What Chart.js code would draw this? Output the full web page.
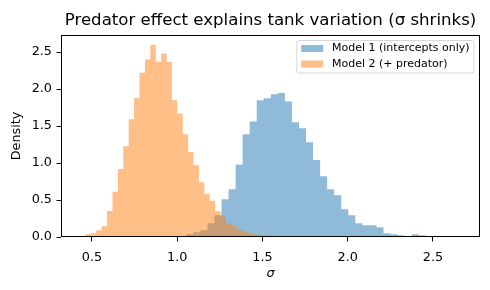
<!DOCTYPE html>
<html>
<head>
<meta charset="utf-8">
<script src="https://cdn.jsdelivr.net/npm/chart.js@4.4.0/dist/chart.umd.min.js"></script>
<style>
  html, body { margin: 0; padding: 0; background: #fff; }
</style>
</head>
<body>
<canvas id="sigmaChart" width="490" height="290"></canvas>
<script>
const seriesLabels = ["Model 1 (intercepts only)", "Model 2 (+ predator)"]
const seriesColors = ["rgba(31, 119, 180, 0.5)", "rgba(255, 127, 14, 0.5)"]

// 40 bins each, densities
const model1Start = 1.012
const model1Width = 0.0413
const model1Density = [
  0.015, 0.036, 0.063, 0.09, 0.185, 0.293, 0.51, 0.645, 0.98, 1.39,
  1.56, 1.85, 1.875, 1.93, 1.945, 1.83, 1.55, 1.47, 1.28, 1.04,
  0.82, 0.645, 0.565, 0.375, 0.293, 0.185, 0.158, 0.158, 0.131, 0.05,
  0.036, 0.023, 0.01, 0.036, 0.023, 0.01, 0.003, 0.003, 0, 0.003,
]
const model2Start = 0.430
const model2Width = 0.0317
const model2Density = [
  0.01, 0.036, 0.05, 0.09, 0.145, 0.35, 0.61, 0.92, 1.225, 1.59,
  1.88, 2.22, 2.40, 2.60, 2.37, 2.48, 2.365, 1.85, 1.67, 1.39,
  1.15, 0.97, 0.74, 0.58, 0.49, 0.347, 0.29, 0.185, 0.15, 0.10,
  0.075, 0.05, 0.035, 0.03, 0.02, 0.015, 0.015, 0.01, 0.01, 0.005,
]
const xTicks = [0.5, 1.0, 1.5, 2.0, 2.5]
const yTicks = [0, 0.5, 1.0, 1.5, 2.0, 2.5]

// bar outline as a filled step line: two points per bin
function histPoints(start, width, heights) {
  const pts = []
  heights.forEach((h, i) => {
    pts.push({ x: start + i * width, y: h })
    pts.push({ x: start + (i + 1) * width, y: h })
  })
  return pts
}

const dataMin = Math.min(model1Start, model2Start)
const dataMax = Math.max(model1Start + model1Density.length * model1Width,
                         model2Start + model2Density.length * model2Width)
const xPad = (dataMax - dataMin) * 0.05
const yMax = Math.max(...model1Density, ...model2Density) * 1.05

Chart.defaults.font.family = "'DejaVu Sans', sans-serif"
Chart.defaults.color = "#000"

//box round the plot
const framePlugin = {
  id: "frame",
  afterDraw(chart) {
    const a = chart.chartArea
    const ctx = chart.ctx
    ctx.save()
    ctx.strokeStyle = "#000"
    ctx.lineWidth = 1
    ctx.strokeRect(Math.round(a.left) + 0.5, Math.round(a.top) + 0.5,
      Math.round(a.right - a.left) - 1, Math.round(a.bottom - a.top) - 1)
    ctx.restore()
  },
}

//matplotlib style legend in upper right
const boxLegend = {
  id: "boxLegend",
  afterDraw(chart) {
    const ctx = chart.ctx
    const a = chart.chartArea
    const fs = 11
    ctx.save()
    ctx.font = fs + "px 'DejaVu Sans'"
    const textW = Math.max(...seriesLabels.map(t => ctx.measureText(t).width))
    const pad = 0.4 * fs
    const handle = 2 * fs
    const gap = 0.8 * fs
    const rowGap = 15.5
    const firstRow = 8
    const w = pad + handle + gap + textW + pad
    const h = firstRow * 2 + rowGap * (seriesLabels.length - 1) + 1
    const x0 = a.right - 6 - w
    const y0 = a.top + 5.5
    ctx.fillStyle = "rgba(255,255,255,0.8)"
    ctx.strokeStyle = "rgba(204,204,204,0.8)"
    ctx.lineWidth = 1
    ctx.beginPath()
    ctx.roundRect(x0, y0, w, h, 2)
    ctx.fill()
    ctx.stroke()
    seriesLabels.forEach((label, i) => {
      const cy = y0 + firstRow + rowGap * i
      ctx.fillStyle = seriesColors[i]
      ctx.fillRect(x0 + pad, cy - 3.5, handle, 7)
      ctx.fillStyle = "#000"
      ctx.textBaseline = "middle"
      ctx.fillText(label, x0 + pad + handle + gap, cy)
    })
    ctx.restore()
  },
}

new Chart(document.getElementById("sigmaChart"), {
  type: "line",
  data: {
    datasets: [
      {
        label: seriesLabels[0],
        data: histPoints(model1Start, model1Width, model1Density),
        backgroundColor: seriesColors[0],
        borderColor: "rgba(0,0,0,0)",
        borderWidth: 0,
        pointRadius: 0,
        fill: "origin",
        order: 1,
      },
      {
        label: seriesLabels[1],
        data: histPoints(model2Start, model2Width, model2Density),
        backgroundColor: seriesColors[1],
        borderColor: "rgba(0,0,0,0)",
        borderWidth: 0,
        pointRadius: 0,
        fill: "origin",
        order: 0,
      },
    ],
  },
  options: {
    responsive: false,
    animation: false,
    devicePixelRatio: 1,
    layout: { padding: { top: 0, right: 10, bottom: 0, left: 0 } },
    plugins: {
      legend: { display: false },
      tooltip: { enabled: false },
      title: {
        display: true,
        fullSize: false,
        text: "Predator effect explains tank variation (σ shrinks)",
        font: { size: 16.6, weight: "normal" },
        padding: { top: 10.8, bottom: 4.3 },
      },
    },
    scales: {
      x: {
        type: "linear",
        min: dataMin - xPad,
        max: dataMax + xPad,
        afterFit: s => { s.height = 53 },
        afterBuildTicks: s => { s.ticks = xTicks.map(v => ({ value: v })) },
        ticks: { font: { size: 12.8 }, padding: 8, maxRotation: 0, callback: v => v.toFixed(1) },
        grid: { drawOnChartArea: false, drawTicks: true, tickLength: 4.5, tickColor: "#000" },
        border: { display: false },
        title: { display: true, text: "σ", font: { size: 12.8, style: "italic" }, padding: { top: 0, bottom: 9 } },
      },
      y: {
        min: 0,
        max: yMax,
        afterFit: s => { s.width = 61 },
        afterBuildTicks: s => { s.ticks = yTicks.map(v => ({ value: v })) },
        ticks: { font: { size: 12.8 }, padding: 4.5, callback: v => v.toFixed(1) },
        grid: { drawOnChartArea: false, drawTicks: true, tickLength: 4.5, tickColor: "#000" },
        border: { display: false },
        title: { display: true, text: "Density", font: { size: 12.8 }, padding: { top: 8.5, bottom: 0 } },
      },
    },
  },
  plugins: [framePlugin, boxLegend],
})
</script>
</body>
</html>
